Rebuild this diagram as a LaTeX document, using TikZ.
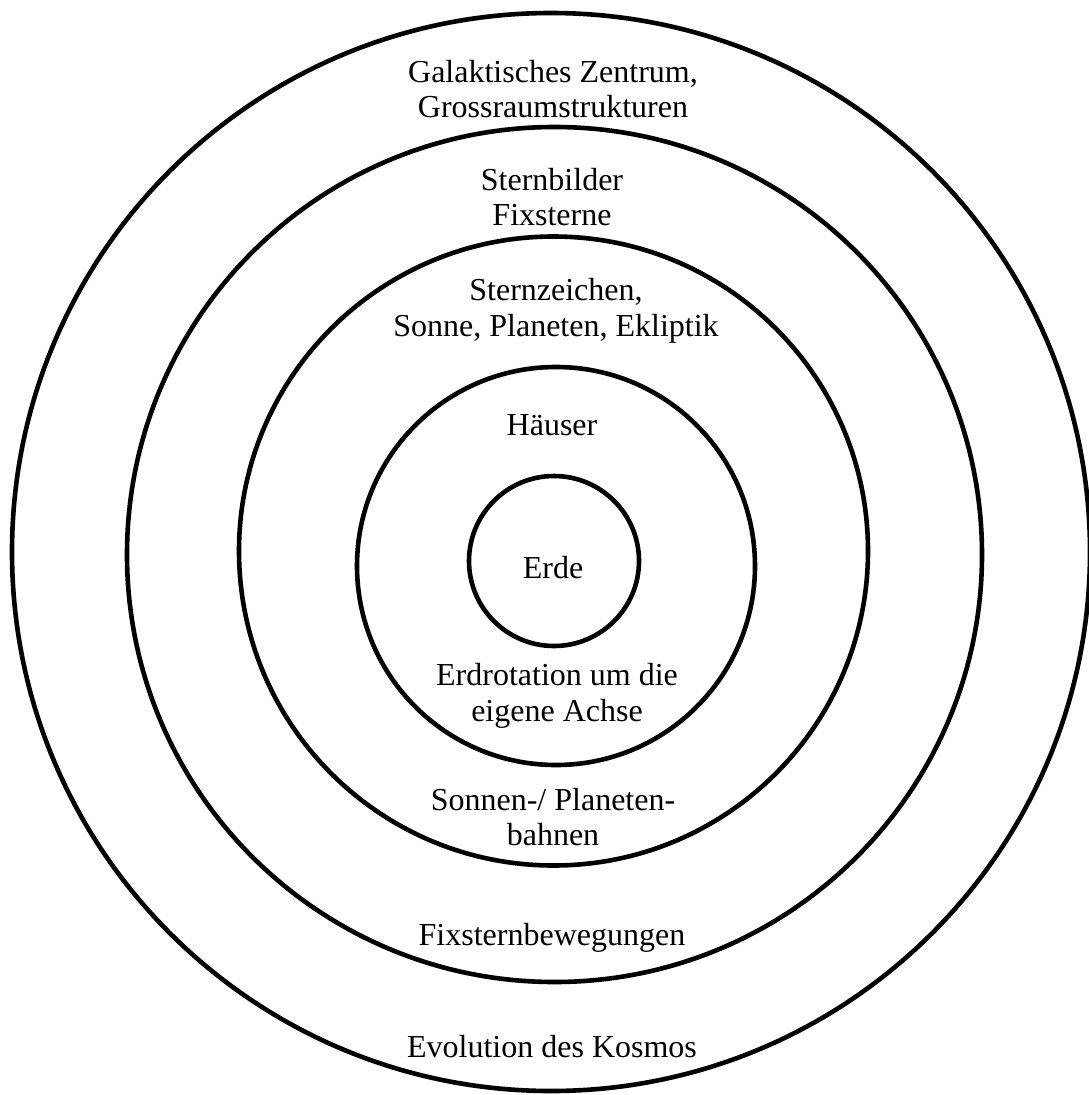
\documentclass[tikz,border=0pt]{standalone}
\usepackage{fontspec}
\setmainfont{Liberation Serif}
\usepackage{tikz}

\begin{document}
\begin{tikzpicture}[x=1pt,y=-1pt,ring/.style={line width=4.6pt},lbl/.style={align=center,inner sep=0pt,font=\fontsize{32}{35.5}\selectfont}]

\useasboundingbox (0,0) rectangle (1088,1095);
%rings
\draw[ring] (551,552) circle (539);
\draw[ring] (554.5,554.5) circle (427.5);
\draw[ring] (553.5,551) circle (314.5);
\draw[ring] (556,566) circle (199);
\draw[ring] (554,561) circle (85);
%labels
\node[lbl] (galaxis) at (553,89) {Galaktisches Zentrum,\\Grossraumstrukturen};
\node[lbl] (sternbilder) at (552,197) {Sternbilder\\Fixsterne};
\node[lbl] (tierkreis) at (556,311) {Sternzeichen,\\Sonne, Planeten, Ekliptik};
\node[lbl] (haeuser) at (552,425) {Häuser};
\node[lbl] (erde) at (553,568) {Erde};
\node[lbl] (rotation) at (557,696) {Erdrotation um die\\eigene Achse};
\node[lbl] (bahnen) at (553,817) {Sonnen-/ Planeten-\\bahnen};
\node[lbl] (fixbew) at (552,938) {Fixsternbewegungen};
\node[lbl] (evolution) at (552,1047) {Evolution des Kosmos};

\end{tikzpicture}
\end{document}
